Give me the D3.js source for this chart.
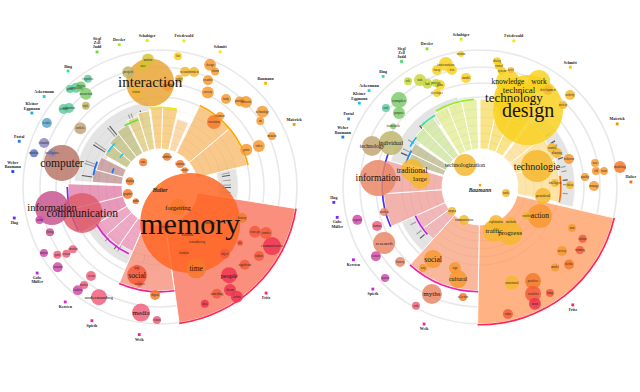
<!DOCTYPE html>
<html><head><meta charset="utf-8">
<script src="https://cdn.jsdelivr.net/npm/d3@7"></script>
<style>html,body{margin:0;background:#fff;}svg{display:block}</style>
</head><body>
<svg id="c" width="640" height="392"></svg>
<script>
// ---------- DATA ----------
// wedges: [startDeg, endDeg, depth, theme]
const wedgesA = [
 [99,172,137,'mem'],[172,203,104,'soc'],
 [203,215,70,'pk'],[215,228,72,'pk'],[228,240,74,'pk'],
 [240,256,92,'pk2'],[256,272,92,'pk2'],
 [274,285,68,'mv'],[285,297,66,'mv'],
 [300,311,64,'ol'],[311,322,67,'ol'],[322,333,70,'ol'],
 [334,343,74,'ky'],[343,352,77,'ky'],
 [353,362,80,'gd'],[2,13,80,'gd'],[14,24,70,'lo'],
 [26,50,90,'or'],[50,76,90,'or']
];
const wedgesB = [
 [103,181,137,'act'],[181,222,104,'soc2'],
 [222,234,70,'pk3'],[234,246,70,'pk3'],
 [246,266,97,'pk4'],[266,286,97,'pk4'],
 [288,296,76,'ol2'],[296,304,78,'ol2'],
 [306,316,82,'gn2'],[316,326,84,'gn2'],
 [328,338,86,'yg2'],[338,348,87,'yg2'],[348,358,88,'yg2'],
 [0,12,88,'ye2'],[12,24,88,'ye2'],[24,36,86,'ye2'],
 [38,52,82,'yo2'],[52,70,80,'yo2'],[70,101,80,'yo2']
];
// grey bands: [startDeg, endDeg, innerDepth, outerDepth]
const bandA = [[274,352,60,86],[68,99,58,78],[180,240,64,84]];
const bandB = [[286,346,74,93],[40,102,78,95],[222,248,68,86]];
// tick angles in the grey bands
const ticksA = [278,287,289,302,304,318,320,336,338,345,74,78,80,84,88,90,94,189,192,201,213,216,225];
const ticksB = [293,296,303,315,318,333,336,342,52,58,61,67,70,76,79,85,88,94,229,233,241];
// coloured rims: [startDeg, endDeg, depth]
const rimsA = [[99,172,138],[172,203,105],[205,240,74],[242,270,93],[280,292,68],[286,292,50],[304,314,63],[306,312,50],[330,342,71],[352,372,80],[26,76,91]];
const rimsB = [[103,181,138],[181,222,105],[246,290,98],[228,246,71],[288,298,78],[300,308,81],[316,328,85],[330,356,88],[82,101,81]];
// words: [term, angleDeg, distance, size, tone, weight]
const wordsA = [
 ['memory',140,47,50,'mem',30],['interaction',354.6,105,24,'ig',15],['computer',283.8,101,18,'br',11.5],
 ['information',259,110,17,'im',10.5],['communication',251.6,82,20,'cm',11.5],['social',194.6,91,10,'r',7.5],
 ['time',156,89,10,'do',7.5],['media',188.6,127,9,'pk',7],['understanding',209,126,8,'pk',5],
 ['forgetting',138,27,8,'do',6.5],['people',141.9,112,8,'rd',6.3],['digital',182.6,108,5,'do',3],
 ['culture',181.3,133,4,'pk',3],['creation',39.7,84.5,7,'do',3.5],['element',40.2,93,4,'o',3],
 ['video',67.5,107,6,'o',3],['point',66.7,94,6,'o',3],['mission',65.5,123,4,'o',3],
 ['technology',53.7,127,6,'o',3],['art',56.7,120,4,'o',3],['network',45.3,121,6,'o',3],
 ['particle',43,117,5,'o',3],['body',36.9,110,5,'o',3],['society',26.8,106,6,'o',3],
 ['creative',24.2,117,5,'o',3],['design',22.3,132,6,'o',3],['vision',25.5,128,4,'o',3],
 ['scenario',12.3,118,5,'gd',3],['context',16.5,120,5,'gd',3],['order',10,110,4,'gd',3],
 ['list',7.8,132,4,'y',3],['motion',354.6,128,6,'oy',3],['user',352,122,5,'oy',3],
 ['project',344.5,119,6,'ol',3.5],['vision',345.8,98,5,'gd',3],['reading',4.5,102,6,'o',3],
 ['cognitive',326.3,130,4,'tl',3],['complexity',319.7,130,5,'tl',3],['game',317.4,133,4,'tl',3],
 ['fiction',321.8,128,5,'gn',3],['interaction',321.5,119,6,'gn',3],['style',317.6,110,4,'ol',3],
 ['colour',309,124,5,'tl',3],['animation',311,120.5,5,'tl',3],['article',306.4,99,6,'tn',3.5],
 ['textile',299.5,130,5,'bl',3],['virtuality',290.8,124,5,'lv',3],['machine',285,130.5,4,'bl2',3],
 ['intelligence',287.5,113,4,'lv',3],['mirror',240.4,133.5,4,'mg',3],['path',236.6,123,4,'pk',3],
 ['sensor',234.5,115,4,'pk',3],['emotion',234.5,107,4,'pk',3],['custom',231.9,130,5,'mg',3],
 ['event',217.8,112.6,5,'pk',3],['market',217.8,124,4,'pk',3],['fashion',218.5,132,5,'mg',3],
 ['living',247.7,119,4,'im',3],['assist',254.7,125,4,'mg',3],['care',325.8,30,4,'do',3],
 ['addition',13,31,4,'do',3],['learning',41,30.5,4,'do',3],['science',55.8,30,3,'do',3],
 ['graphic',257.7,33,5,'do',3],['display',281,30.6,4,'do',3],['paths',239.7,28,3,'do',3],
 ['concept',115.3,105,6,'r',3],['wonder',113.5,115.5,6,'r',3],['communication',117.8,126.6,9,'rd',3.5],
 ['culture',124.9,120.7,5,'r',3],['significant',132.5,115,5,'r',3],['site',125,97.7,3,'r',3],
 ['object',135.9,93,5,'r',3],['action',145,134,6,'rd',3],['dream',145.8,124.5,6,'rd',3],
 ['something',152,121,5,'r',3],['idea',159,125,4,'rd',3],['history',110.7,87.7,5,'do',3],
 ['recall',172,40,4,'mem',3],['reflection',150,55,3,'mem',3],['location',160,70,4,'mem',3],
 ['remembering',146,66,3,'mem',3],['moment',126,62,5,'mem',3],['way',196,84,3,'r',3],['scenario',192,99,3,'r',3]
];
const wordsB = [
 ['design',32,90.7,35,'y',20],['technology',20.9,95.3,20,'y',13],['technical',21.9,104.5,10,'y',9],
 ['knowledge',14.9,108.7,12,'y',7.5],['work',29.1,121.3,11,'y',7.5],['development',35,118.5,5,'gd',3],
 ['level',14.8,121,3,'gd',3],['activity',44.4,128.7,5,'gd',3],['society',45.3,116.7,4,'gd',3],
 ['technologie',69.8,60.7,16,'gd',10],['technologization',325.7,26.6,11,'gd',6],['traditional',284,70,11,'gd',7.5],
 ['large',277.6,60.5,10,'gd',7],['information',275,102.4,18,'sa',9.5],['individual',296.3,99.3,12,'ol',6],
 ['technology',290.8,115.5,10,'tn',5.5],['complex',317,118.9,8,'gn',4],['purpose',312.4,109.7,6,'gn',3],
 ['tool',310,122.8,4,'tl',3],['framework',305,106,3,'gn',3],['role',325.8,128,4,'yg',3],
 ['task',330.7,122.7,6,'yg',3],['bad',333,116,5,'yg',3],['process',337,113,4,'yg',3],
 ['game',338.6,109.6,5,'y',3],['interaction',344.5,127.6,7,'y',4],['fuzzy',339.8,124.7,5,'y',3],
 ['text',346.5,120.3,5,'y',3],['modal',352.7,110,5,'y',3],['motion',351.9,134.3,3,'y',3],
 ['developer',335.4,103.4,4,'y',3],['dialog',7.7,127,4,'y',3],['control',8.9,122.5,4,'y',3],
 ['system',10.7,118,4,'y',3],['control',61.6,81.9,5,'gd',3],['planning',66.2,84,5,'gd',3],
 ['behavior',72.5,93.3,5,'o',3],['new',78.2,117.5,4,'o',3],['old',82.1,117,4,'o',3],
 ['modeling',81.9,141.4,6,'do',3],['form',82.6,125,4,'o',3],['quality',84.6,105.5,4,'o',3],
 ['intelligent',87,75,4,'gd',3],['ideas',88.7,90,4,'gd',3],['manage',89.5,114,5,'o',3],
 ['practical',98.1,63.6,8,'gd',4],['trade',103,26.7,4,'gd',3],['action',115.8,66.6,12,'o',7.5],
 ['conflict',121.7,55,4,'gd',3],['traffic',162.4,46,11,'gd',7],['progress',146.9,55,12,'gd',7],
 ['explanation',155.4,38.5,7,'gd',3],['methods',138.5,46.8,5,'gd',3],['communication',205.9,36.7,5,'gd',3],
 ['utopia',229.4,36.9,4,'gd',3],['aim',114,100.7,4,'o',3],['culture',116.8,115,4,'r',3],
 ['forming',122.2,118,4,'r',3],['society',128,104,5,'o',3],['social',213.1,86,9,'o',7.5],
 ['cultural',193.4,94.6,9,'o',6],['sign',197.2,84.8,6,'o',3],['way',215.1,99,4,'o',3],
 ['myths',204.2,117.3,10,'sa',7],['code',208.3,135,4,'pk',3],['selection',188.8,111.3,4,'do',3],
 ['research',239.7,111,11,'sa',5],['human',249.3,110,5,'pk',3],['process',255.4,99,4,'sa',3],
 ['organic',255,127,5,'mg',3],['sensor',236.4,125,5,'mg',3],['system',226.2,131.5,4,'mg',3],
 ['history',226.8,109.6,5,'sa',3],['structural',161.6,101,7,'gd',3.5],['positive',150.6,108,8,'do',3.5],
 ['conflict',153.6,119.4,8,'r',3.5],['mind',154.8,129,6,'rd',3],['value',167.6,130,5,'r',3],
 ['lamp',146.6,127,4,'r',3],['define',131,118,5,'do',3],['model',137,110,4,'o',3]
];
// authors: [name lines, angleDeg, distance]
const authorsA = [
 [['Schabiger'],355,147],[['Friedewald'],9.3,148],[['Dresler'],344,148],[['Siegl','Zell','Judd'],335,149],
 [['Schmitt'],24,148],[['Baumann'],45.5,148],[['Maierick'],65,148],[['Bing'],321.6,148],
 [['Ackermann'],308,147],[['Kleiner','Eggmann'],300,148],[['Portal'],288,148],[['Weber','Baumann'],276,148],
 [['Hug'],258,149],[['Gabe','Müller'],235,150],[['Kersten'],219.5,149],[['Spieth'],207,150],
 [['Weik'],188,149],[['Fritz'],135,150]
];
const authorsB = [
 [['Schabiger'],352.7,149],[['Friedewald'],13,150],[['Dresler'],339,148],[['Siegl','Zell','Judd'],328,148],
 [['Schmitt'],37,150],[['Bing'],318.8,147],[['Ackermann'],311,147],[['Kleiner','Eggmann'],304.8,147],
 [['Portal'],297.4,148],[['Weber','Baumann'],290,146],[['Hug'],264,147],[['Maierick'],65.3,151],
 [['Halter'],88.1,151],[['Gabe','Müller'],258,146],[['Kersten'],240.1,146],[['Spieth'],226.4,148],
 [['Weik'],202.2,148],[['Fritz'],141.8,150]
];
const centreAuthors = ['Halter','Baumann'];
const ringLevels = [90,104,120,137];
const innerLevels = [46,54,62,70,78];
const coreDepth = 38;

// ---------- SCALES ----------
const angle = d3.scaleLinear().domain([0,360]).range([0,2*Math.PI]);
const radius = d3.scaleLinear().domain([0,137]).range([0,137]);
const size = d3.scaleLinear().domain([0,50]).range([0,50]);
const fontSize = d3.scaleLinear().domain([0,30]).range([0,30]);
const hue = d3.scaleLinear()
 .domain([0,25,45,65,90,135,188,210,235,258,276,295,310,322,335,345,360])
 .range(['#e6f000','#ffe000','#ffb000','#ff9000','#ff6a00','#ff2850','#f02090','#f020c0','#c020e0','#8020f0','#2040f0','#2090f5','#20d0f0','#30e0a0','#60e030','#a8f020','#e6f000']);
const themes = {mem:'#fb8572',soc:'#f7a08e',pk:'#eda2bf',pk2:'#e68fb3',mv:'#c9a3a2',ol:'#c9c591',ky:'#e3d38f',gd:'#f7cd83',lo:'#fbd6a5',or:'#f9c381',
 act:'#ffab78',soc2:'#f9b294',pk3:'#f0b2b4',pk4:'#f1ada8',ol2:'#c6c29c',gn2:'#d6e9ab',yg2:'#e7efa3',ye2:'#f9e27f',yo2:'#fde3a2'};
const wedgeFill = d3.scaleOrdinal().domain(Object.keys(themes)).range(Object.values(themes));
const tones = {y:'#f9d11e',oy:'#d8c232',gd:'#f6b82c',ig:'#e9a333',o:'#f8982e',do:'#f67a2a',mem:'#ff6522',r:'#f35b3c',rd:'#ee3350',pk:'#ef5e7d',
 mg:'#d049ab',pu:'#9d52c5',lv:'#8d87bd',bl:'#5ba6c9',bl2:'#5a74c4',tl:'#5dcc9d',gn:'#7dcc6b',yg:'#c7d83a',ol:'#beb56b',tn:'#c4a474',br:'#b87667',sa:'#e98665',cm:'#dc5c6a',im:'#c6558f'};
const tone = d3.scaleOrdinal().domain(Object.keys(tones)).range(Object.values(tones));

const panels = [
 {cx:160,cy:187,wedges:wedgesA,band:bandA,ticks:ticksA,rims:rimsA,words:wordsA,authors:authorsA,centre:centreAuthors[0]},
 {cx:480,cy:187,wedges:wedgesB,band:bandB,ticks:ticksB,rims:rimsB,words:wordsB,authors:authorsB,centre:centreAuthors[1]}
];

const svg = d3.select('#c');
const arc = d3.arc();
const pt = (a,d) => [radius(d)*Math.sin(angle(a)), -radius(d)*Math.cos(angle(a))];
const SERIF = "'Liberation Serif','DejaVu Serif',serif";

panels.forEach(p => {
 const g = svg.append('g').attr('transform',`translate(${p.cx},${p.cy})`);
 g.append('g').selectAll('circle').data(ringLevels).join('circle')
  .attr('r',d=>radius(d)).attr('fill','none').attr('stroke','#e8e8e8').attr('stroke-width',1.6);
 g.append('g').selectAll('path').data(p.band).join('path')
  .attr('d',d=>arc({innerRadius:radius(d[2]),outerRadius:radius(d[3]),startAngle:angle(d[0]),endAngle:angle(d[1])}))
  .attr('fill','#e4e4e4').attr('stroke','#fff').attr('stroke-width',0.6);
 const inBand = a => p.band.find(b => a>=b[0] && a<=b[1]);
 g.append('g').selectAll('path').data(p.ticks.filter(inBand)).join('path')
  .attr('d',a=>{const b=inBand(a);return arc({innerRadius:radius(b[2]+5),outerRadius:radius(b[3]-7),startAngle:angle(a),endAngle:angle(a+0.8)});})
  .attr('fill',(a,i)=> i%3===0 ? '#555' : '#9a9a9a');
 g.append('g').selectAll('path').data(p.wedges).join('path')
  .attr('d',d=>arc({innerRadius:radius(coreDepth),outerRadius:radius(d[2]),startAngle:angle(d[0]),endAngle:angle(d[1]<d[0]?d[1]+360:d[1])}))
  .attr('fill',d=>wedgeFill(d[3])).attr('fill-opacity',0.92).attr('stroke','#fff').attr('stroke-width',0.9);
 g.append('g').selectAll('circle').data(innerLevels).join('circle')
  .attr('r',d=>radius(d)).attr('fill','none').attr('stroke','rgba(0,0,0,0.05)').attr('stroke-width',0.7);
 g.append('g').selectAll('path').data(p.rims).join('path')
  .attr('d',d=>arc({innerRadius:radius(d[2]-1.1),outerRadius:radius(d[2]+0.6),startAngle:angle(d[0]),endAngle:angle(d[1])}))
  .attr('fill',d=>hue(((d[0]+d[1])/2)%360));
 const words = p.words.slice().sort((a,b)=>b[3]-a[3]);
 g.append('g').selectAll('circle').data(words).join('circle')
  .attr('cx',d=>pt(d[1],d[2])[0]).attr('cy',d=>pt(d[1],d[2])[1])
  .attr('r',d=>size(d[3])).attr('fill',d=>tone(d[4])).attr('fill-opacity',0.84);
 const lab = p.words.slice().sort((a,b)=>a[5]-b[5]);
 g.append('g').selectAll('text').data(lab).join('text')
  .attr('x',d=>pt(d[1],d[2])[0]).attr('y',d=>pt(d[1],d[2])[1])
  .attr('text-anchor','middle').attr('dominant-baseline','central')
  .attr('font-family',SERIF).attr('font-size',d=>fontSize(d[5]))
  .attr('fill',d=>d[5]>=5?'#151515':'#2a2a2a').text(d=>d[0]);
 const ag = g.append('g').selectAll('g').data(p.authors).join('g')
  .attr('transform',d=>`translate(${pt(d[1],d[2])[0]},${pt(d[1],d[2])[1]})`);
 ag.append('rect').attr('x',-1.4).attr('y',-1.4).attr('width',2.8).attr('height',2.8).attr('fill',d=>hue(d[1]));
 ag.each(function(d){
  const below = d[1]>90 && d[1]<262;
  const n = d[0].length;
  d3.select(this).selectAll('text').data(d[0]).join('text')
   .attr('x',0).attr('y',(t,i)=> below ? 6+i*4.2 : -3.5-(n-1-i)*4.2)
   .attr('text-anchor','middle').attr('font-family',SERIF).attr('font-weight','bold')
   .attr('font-size',3.9).attr('fill','#222').text(t=>t);
 });
 g.append('rect').attr('x',-1.2).attr('y',-3).attr('width',2.4).attr('height',2.4).attr('fill','#f6a000');
 g.append('text').attr('x',0).attr('y',5).attr('text-anchor','middle').attr('font-family',SERIF)
  .attr('font-style','italic').attr('font-weight','bold').attr('font-size',5.5).attr('fill','#222').text(p.centre);
});
</script>
</body></html>
